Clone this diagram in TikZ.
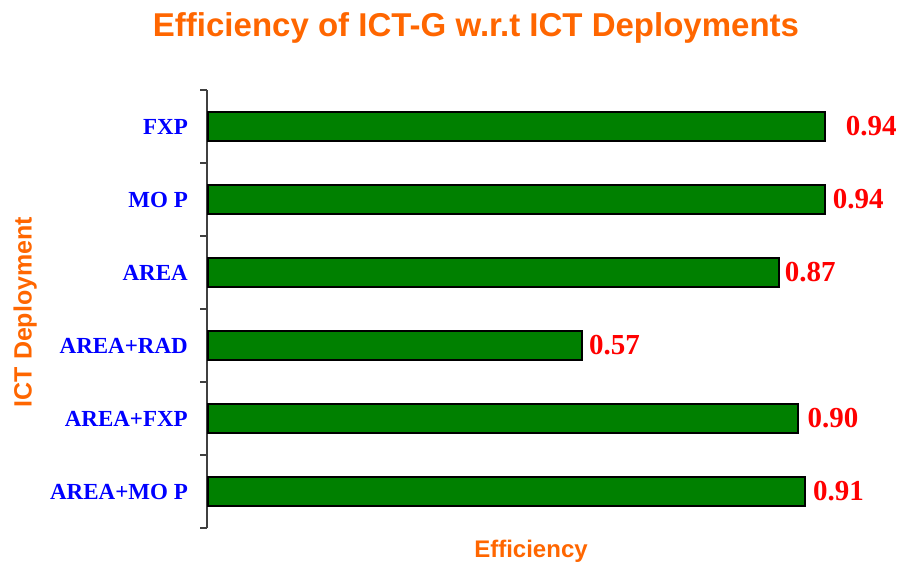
\documentclass[tikz,border=0pt]{standalone}
\usepackage{fontspec}
\setmainfont{Liberation Serif}
\newfontfamily\arialfont{Liberation Sans}
\usetikzlibrary{calc,positioning}
\definecolor{ictorange}{RGB}{255,102,0}
\definecolor{bargreen}{RGB}{0,128,0}
\definecolor{axisgray}{RGB}{64,64,64}
\tikzset{>=stealth,
  bar/.style={draw=black,line width=2pt,fill=bargreen,inner sep=0pt,minimum height=29pt,anchor=west},
  catlabel/.style={anchor=east,inner sep=0pt,text=blue,font=\fontsize{23}{26}\selectfont\bfseries},
  vallabel/.style={anchor=west,inner sep=0pt,text=red,font=\fontsize{29}{32}\selectfont\bfseries},
  axline/.style={draw=axisgray,line width=1.3pt},
  axtitle/.style={inner sep=0pt,text=ictorange}
}

\begin{document}
\begin{tikzpicture}[x=1pt,y=-1pt]
      \useasboundingbox (0,0) rectangle (899,565);
      \node[axtitle,anchor=base,font=\arialfont\fontsize{33}{36}\selectfont\bfseries] (title) at (476,36)
        {Efficiency of ICT-G w.r.t ICT Deployments};
      \node[axtitle,anchor=base,rotate=90,font=\arialfont\fontsize{25}{28}\selectfont\bfseries] (ylab) at (31.5,312)
        {ICT Deployment};
      \node[axtitle,anchor=base,font=\arialfont\fontsize{24}{28}\selectfont\bfseries] (xlab) at (531,557)
        {Efficiency};
      % axis
      \coordinate (axtop) at (207,90);
      \coordinate (axbot) at (207,528);
      \draw[axline] (axtop) -- (axbot);
      \foreach \t in {0,...,6}
        \draw[axline] ($(axtop)+(0,73*\t)$) -- ++(-7,0);
      % bars
      \foreach \i/\name/\val/\gap in {0/FXP/0.94/20,1/MO P/0.94/7,2/AREA/0.87/5,
                                      3/AREA+RAD/0.57/6,4/AREA+FXP/0.90/8,5/AREA+MO P/0.91/7} {
        \node[catlabel] (cat\i) at (188,126.5+73*\i) {\name};
        \node[bar,minimum width=656*\val] (bar\i) at (207,126.5+73*\i) {};
        \node[vallabel] (val\i) at ($(bar\i.east)+(\gap,0)$) {\val};
      }
      % \draw[red] (0,0) rectangle (899,565);
    \end{tikzpicture}
\end{document}
